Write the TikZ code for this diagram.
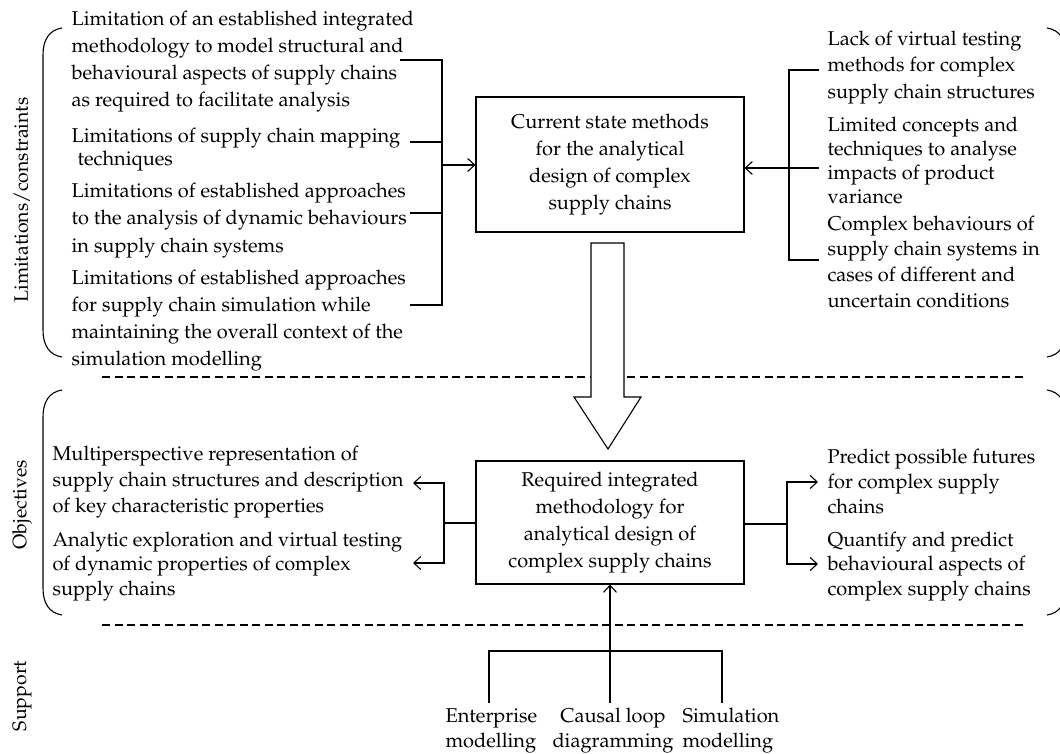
\documentclass[tikz,border=0pt]{standalone}
\usepackage[T1]{fontenc}
\usepackage{mathpazo}
\usetikzlibrary{arrows.meta}
\newcommand{\fl}{\rule{0pt}{15pt}}
\begin{document}
\begin{tikzpicture}[x=1pt,y=-1pt,line width=1.1pt,
  txt/.style={font=\fontsize{20}{#1}\selectfont, align=left, inner sep=0pt, anchor=north west},
  box/.style={draw, font=\fontsize{20}{27}\selectfont, align=center, minimum width=268pt, inner sep=0pt},
  side/.style={font=\fontsize{19.5}{23}\selectfont, rotate=90, inner sep=0pt},
  arr/.style={-{Straight Barb[length=7pt,width=13pt]}},
  sepline/.style={dash pattern=on 8pt off 4.5pt},
  brk/.style={line width=1.1pt}]
\useasboundingbox (0,0) rectangle (1060,754);
\clip (0,0) rectangle (1060,754);

% side labels
\node[side] (lablim) at (22,200) {Limitations/constraints};
\node[side] (labobj) at (22,505) {Objectives};
\node[side] (labsup) at (22,696) {Support};

% brackets
\draw[brk] (62,28) .. controls (49,30) and (43,40) .. (43,55) -- (43,330) .. controls (43,345) and (49,355) .. (62,357);
\draw[brk] (1047,28) .. controls (1060,30) and (1066,40) .. (1066,55) -- (1066,330) .. controls (1066,345) and (1060,355) .. (1047,357);
\draw[brk] (62,390) .. controls (49,392) and (43,402) .. (43,417) -- (43,588) .. controls (43,603) and (49,613) .. (62,615);
\draw[brk] (1047,390) .. controls (1060,392) and (1066,402) .. (1066,417) -- (1066,588) .. controls (1066,603) and (1060,613) .. (1047,615);

% dashed separators
\draw[sepline] (102,377) -- (1025,377);
\draw[sepline] (102,625) -- (1025,625);

% left limitation texts
\node[txt=27.3pt] (lim1) at (71,9.5) {\fl Limitation of an established integrated\\methodology to model structural and\\behavioural aspects of supply chains\\as required to facilitate analysis};
\node[txt=23pt] (lim2) at (71,126.5) {\fl Limitations of supply chain mapping\\\hspace*{6pt}techniques};
\node[txt=27.5pt] (lim3) at (71,181.5) {\fl Limitations of established approaches\\to the analysis of dynamic behaviours\\in supply chain systems};
\node[txt=27pt] (lim4) at (71,268.5) {\fl Limitations of established approaches\\for supply chain simulation while\\maintaining the overall context of the\\simulation modelling};

% right limitation texts
\node[txt=26.5pt] (r1) at (827,29.5) {\fl Lack of virtual testing\\methods for complex\\supply chain structures};
\node[txt=24.3pt] (r2) at (827,115.5) {\fl Limited concepts and\\techniques to analyse\\impacts of product\\variance};
\node[txt=25.7pt] (r3) at (827,214.5) {\fl Complex behaviours of\\supply chain systems in\\cases of different and\\uncertain conditions};

% boxes
\node[box, minimum height=135pt] (cur) at (610,164.5) {Current state methods\\for the analytical\\design of complex\\supply chains};
\node[box, minimum height=123pt] (req) at (610,522.5) {Required integrated\\methodology for\\analytical design of\\complex supply chains};

% objectives
\node[txt=26pt] (o1) at (52,444.5) {\fl Multiperspective representation of\\supply chain structures and description\\of key characteristic properties};
\node[txt=24.5pt] (o2) at (52,530.5) {\fl Analytic exploration and virtual testing\\of dynamic properties of complex\\supply chains};
\node[txt=25pt] (p1) at (827,447.5) {\fl Predict possible futures\\for complex supply\\chains};
\node[txt=24.5pt] (p2) at (827,530.5) {\fl Quantify and predict\\behavioural aspects of\\complex supply chains};

% support
\node[txt=25pt] (ent) at (445,706.5) {\fl Enterprise\\modelling};
\node[txt=25pt, align=center, anchor=north] (cau) at (613,706.5) {\fl Causal loop\\diagramming};
\node[txt=25pt] (sim) at (682,706.5) {\fl Simulation\\modelling};

% left bracket connectors
\coordinate (lt1) at (400,60);
\coordinate (lt2) at (410,142);
\coordinate (lt3) at (410,213);
\coordinate (lt4) at (410,305);
\coordinate (lj) at (442,165);
\draw (lt1) -| (lj);
\draw (lt4) -| (lj);
\draw (lt2) -- (lt2 -| lj);
\draw (lt3) -- (lt3 -| lj);
\draw[arr] (lj) -- (cur.west |- lj);

% right bracket connectors
\coordinate (rt1) at (819,70);
\coordinate (rt2) at (819,168);
\coordinate (rt3) at (819,260);
\coordinate (rj) at (789,168);
\draw (rt1) -| (rj);
\draw (rt3) -| (rj);
\draw[arr] (rt2) -- (cur.east |- rt2);

% hollow arrow
\draw[fill=white] (591,243) -- (591,397) -- (574,397) -- (608,449) -- (641,397) -- (624,397) -- (624,243) -- cycle;

% objectives connectors
\coordinate (lo) at (444,523);
\coordinate (lo1) at (413,483);
\coordinate (lo2) at (413,563);
\draw (req.west |- lo) -- (lo);
\draw[arr] (lo) |- (lo1);
\draw[arr] (lo) |- (lo2);
\coordinate (ro) at (787,524);
\coordinate (ro1) at (818,482);
\coordinate (ro2) at (818,564);
\draw (req.east |- ro) -- (ro);
\draw[arr] (ro) |- (ro1);
\draw[arr] (ro) |- (ro2);

% support connectors
\coordinate (cj) at (610,703);
\coordinate (ej) at (489,703);
\coordinate (sj) at (722,703);
\coordinate (hb) at (0,651);
\draw[arr] (cj) -- (req.south);
\draw (ej) |- (hb -| sj) -- (sj);
\end{tikzpicture}
\end{document}
